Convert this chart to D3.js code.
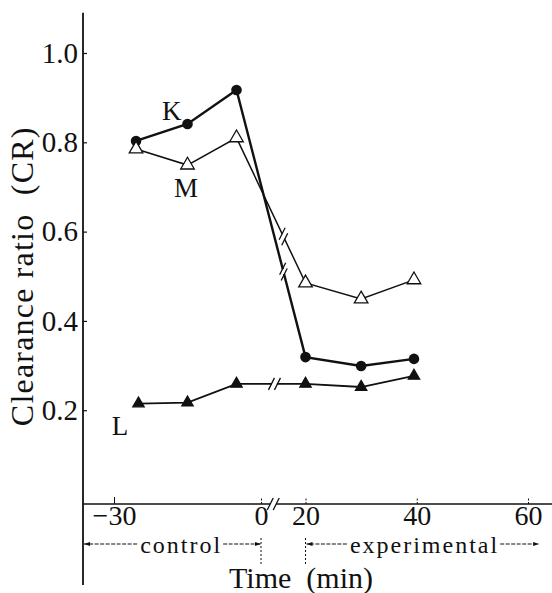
<!DOCTYPE html>
<html>
<head>
<meta charset="utf-8">
<title>Clearance ratio</title>
<script src="https://cdn.jsdelivr.net/npm/d3@7"></script>
<style>
  body { margin: 0; background: #fff; }
  svg { display: block; }
</style>
</head>
<body>
<script>
// data
var timeKM = [-25.5, -15, -5, 20, 30, 39.5];
var timeL  = [-25, -15, -5, 20, 30, 39.5];
var valK = [0.803, 0.841, 0.917, 0.319, 0.299, 0.315];
var valM = [0.785, 0.749, 0.810, 0.485, 0.449, 0.492];
var valL = [0.215, 0.217, 0.259, 0.259, 0.252, 0.277];
var xTicks = [-30, 0, 20, 40, 60];
var yTicks = [0.2, 0.4, 0.6, 0.8, 1.0];
var names = ["K", "M", "L"];

var w = 552, h = 593;
var x0 = 83;          // y axis position
var ink = "#111";
var serif = "'Liberation Serif', 'Times New Roman', serif";

var svg = d3.select("body").append("svg")
    .attr("width", w)
    .attr("height", h)
    .attr("font-family", serif);

// broken time axis: control part and experimental part
var xScale = d3.scaleLinear()
    .domain([-30, 0, 20, 60])
    .range([114, 261, 305.5, 528]);
var yScale = d3.scaleLinear()
    .domain([-0.01, 1])
    .range([504, 53]);
var yBase = yScale(-0.01);
var xBreak = xScale(5.5);

// y axis
var yAxis = d3.axisLeft(yScale)
    .tickValues(yTicks)
    .tickFormat(d3.format(".1f"))
    .tickSize(-4)
    .tickPadding(5);
var gy = svg.append("g")
    .attr("transform", "translate(" + x0 + ",0)")
    .call(yAxis);
gy.attr("font-family", serif).attr("font-size", 29);
gy.select(".domain").remove();
gy.selectAll(".tick line").attr("stroke", ink).attr("stroke-width", 1.2);
gy.selectAll(".tick text").attr("fill", ink);

svg.append("line")
    .attr("x1", x0).attr("x2", x0)
    .attr("y1", yScale(1.09)).attr("y2", h - 8)
    .attr("stroke", ink).attr("stroke-width", 1.8);

// x axis
var xAxis = d3.axisBottom(xScale)
    .tickValues(xTicks)
    .tickSize(-7)
    .tickPadding(1);
var gx = svg.append("g")
    .attr("transform", "translate(0," + yBase + ")")
    .call(xAxis);
gx.attr("font-family", serif).attr("font-size", 28);
gx.select(".domain").remove();
gx.selectAll(".tick text").attr("fill", ink);
gx.selectAll(".tick line").attr("stroke", ink).attr("stroke-width", 1)
    .attr("stroke-dasharray", function(d) { return d == -30 ? null : "2,1.5"; });

svg.append("line")
    .attr("x1", x0).attr("x2", xBreak - 3)
    .attr("y1", yBase).attr("y2", yBase)
    .attr("stroke", ink).attr("stroke-width", 1.6);
svg.append("line")
    .attr("x1", xBreak + 3).attr("x2", w)
    .attr("y1", yBase).attr("y2", yBase)
    .attr("stroke", ink).attr("stroke-width", 1.6);

function slashes(px, py, ux, uy) {
    // two parallel "/" marks, offset along the direction (ux,uy)
    [-3, 3].forEach(function(o) {
        var cx = px + ux * o, cy = py + uy * o;
        svg.append("line")
            .attr("x1", cx - 3).attr("y1", cy + 6)
            .attr("x2", cx + 3).attr("y2", cy - 6)
            .attr("stroke", ink).attr("stroke-width", 1.3);
    });
}
slashes(xBreak, yBase, 1, 0);

// series
var series = [
    {name: names[0], t: timeKM, v: valK, sym: "circle", width: 2.4, brk: 0.68},
    {name: names[1], t: timeKM, v: valM, sym: "open", width: 1.5, brk: 0.68},
    {name: names[2], t: timeL, v: valL, sym: "filled", width: 1.8, brk: 0.55}
];

var line = d3.line()
    .x(function(d) { return xScale(d[0]); })
    .y(function(d) { return yScale(d[1]); });

series.forEach(function(s) {
    var pts = s.t.map(function(t, i) { return [t, s.v[i]]; });
    svg.append("path")
        .attr("d", line(pts))
        .attr("fill", "none")
        .attr("stroke", ink)
        .attr("stroke-width", s.width);

    // break marks on the segment crossing the time gap
    var ax = xScale(pts[2][0]), ay = yScale(pts[2][1]);
    var bx = xScale(pts[3][0]), by = yScale(pts[3][1]);
    var len = Math.hypot(bx - ax, by - ay);
    var ux = (bx - ax) / len, uy = (by - ay) / len;
    var px = ax + (bx - ax) * s.brk, py = ay + (by - ay) * s.brk;
    svg.append("line")
        .attr("x1", px - ux * 2.5).attr("y1", py - uy * 2.5)
        .attr("x2", px + ux * 2.5).attr("y2", py + uy * 2.5)
        .attr("stroke", "#fff").attr("stroke-width", s.width + 2);
    slashes(px, py, ux, uy);

    pts.forEach(function(p) {
        var cx = xScale(p[0]), cy = yScale(p[1]);
        if (s.sym == "circle") {
            svg.append("circle")
                .attr("cx", cx).attr("cy", cy).attr("r", 5.3)
                .attr("fill", ink);
        } else {
            svg.append("path")
                .attr("d", d3.symbol().type(d3.symbolTriangle).size(s.sym == "open" ? 80 : 56)())
                .attr("transform", "translate(" + cx + "," + cy + ")")
                .attr("fill", s.sym == "open" ? "#fff" : ink)
                .attr("stroke", ink)
                .attr("stroke-width", 1.3);
        }
    });
});

// series labels
var labelPos = [[-18.2, 0.85], [-15.3, 0.677], [-28.8, 0.145]];
names.forEach(function(n, i) {
    svg.append("text")
        .text(n)
        .attr("x", xScale(labelPos[i][0]))
        .attr("y", yScale(labelPos[i][1]))
        .attr("text-anchor", "middle")
        .attr("font-size", 27)
        .attr("fill", ink);
});

// control / experimental spans
var defs = svg.append("defs");
defs.append("marker")
    .attr("id", "arr")
    .attr("viewBox", "0 0 10 10")
    .attr("refX", 10).attr("refY", 5)
    .attr("markerWidth", 6).attr("markerHeight", 6)
    .attr("markerUnits", "userSpaceOnUse")
    .attr("orient", "auto")
    .append("path").attr("d", "M0,1.5L10,5L0,8.5Z").attr("fill", ink);

var ySpan = 544;
function span(label, xa, xb, xc) {
    var t = svg.append("text")
        .text(label)
        .attr("x", xc)
        .attr("y", ySpan + 9)
        .attr("text-anchor", "middle")
        .attr("font-size", 24)
        .attr("letter-spacing", 2)
        .attr("fill", ink);
    var bb = t.node().getBBox();
    svg.append("line")
        .attr("x1", bb.x - 3).attr("x2", xa)
        .attr("y1", ySpan).attr("y2", ySpan)
        .attr("stroke", ink).attr("stroke-width", 1.1)
        .attr("stroke-dasharray", "4,1.5")
        .attr("marker-end", "url(#arr)");
    svg.append("line")
        .attr("x1", bb.x + bb.width + 1).attr("x2", xb)
        .attr("y1", ySpan).attr("y2", ySpan)
        .attr("stroke", ink).attr("stroke-width", 1.1)
        .attr("stroke-dasharray", "4,1.5")
        .attr("marker-end", "url(#arr)");
}
span("control", x0 + 1, xScale(0), xScale(-16.3));
span("experimental", xScale(20) + 1, xScale(62), xScale(41.4));

[0, 20].forEach(function(t) {
    svg.append("line")
        .attr("x1", xScale(t)).attr("x2", xScale(t))
        .attr("y1", ySpan - 6).attr("y2", ySpan + 20)
        .attr("stroke", ink).attr("stroke-width", 1)
        .attr("stroke-dasharray", "2,2");
});

// axis titles
svg.append("text")
    .text("Time  (min)")
    .attr("x", xScale(18))
    .attr("y", 588)
    .attr("text-anchor", "middle")
    .attr("font-size", 30)
    .attr("fill", ink)
    .style("white-space", "pre");

svg.append("text")
    .text("Clearance ratio  (CR)")
    .attr("transform", "translate(33," + yScale(0.5) + ") rotate(-90)")
    .attr("text-anchor", "middle")
    .attr("font-size", 32)
    .attr("letter-spacing", 1.2)
    .attr("fill", ink)
    .style("white-space", "pre");
</script>
</body>
</html>
